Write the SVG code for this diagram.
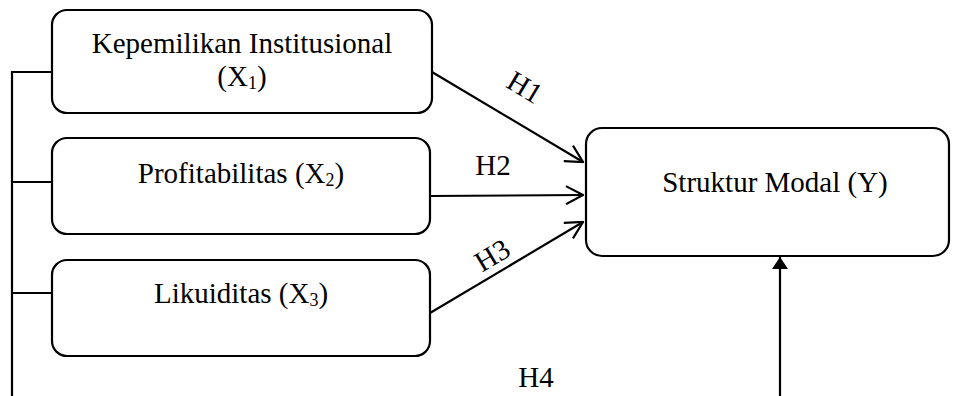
<svg xmlns="http://www.w3.org/2000/svg" width="953" height="396" viewBox="0 0 953 396">
<defs>
<style>
.box{fill:#fff;stroke:#000;stroke-width:2.2}
.ln{fill:none;stroke:#000;stroke-width:2.2}
text{font-family:"Liberation Serif","Times New Roman",serif;font-size:29px;fill:#000;text-anchor:middle}
.sub{font-size:18px}
</style>
<marker id="open" viewBox="0 0 20 20" refX="19" refY="10" markerWidth="20" markerHeight="20" markerUnits="userSpaceOnUse" orient="auto">
<path d="M2,1 L19,10 L2,19" fill="none" stroke="#000" stroke-width="2.2"/>
</marker>
<marker id="solid" viewBox="0 0 12 16" refX="12" refY="8" markerWidth="12" markerHeight="16" markerUnits="userSpaceOnUse" orient="auto">
<path d="M0,0 L12,8 L0,16 Z" fill="#000"/>
</marker>
</defs>
<rect width="953" height="396" fill="#fff"/>
<g id="connectors">
<path class="ln" d="M12,396 V72 H52 M12,182 H52 M12,293 H52"/>
<line class="ln" x1="432" y1="72" x2="583" y2="162" marker-end="url(#open)"/>
<line class="ln" x1="430" y1="196" x2="583" y2="195" marker-end="url(#open)"/>
<line class="ln" x1="430" y1="313" x2="583" y2="222" marker-end="url(#open)"/>
<line class="ln" x1="780" y1="396" x2="780" y2="257" marker-end="url(#solid)"/>
<text transform="translate(525 87) rotate(31)" y="10">H1</text>
<text x="493" y="175">H2</text>
<text transform="translate(492 255) rotate(-31)" y="10">H3</text>
<text x="536" y="387">H4</text>
</g>
<g id="x1">
<rect class="box" x="52" y="10" width="380" height="103" rx="15"/>
<text x="242" y="53">Kepemilikan Institusional</text>
<text x="242" y="86">(X<tspan class="sub" dy="3">1</tspan><tspan dy="-3">)</tspan></text>
</g>
<g id="x2">
<rect class="box" x="52" y="138" width="378" height="96" rx="15"/>
<text x="241" y="183">Profitabilitas (X<tspan class="sub" dy="3">2</tspan><tspan dy="-3">)</tspan></text>
</g>
<g id="x3">
<rect class="box" x="52" y="260" width="378" height="96" rx="15"/>
<text x="241" y="303">Likuiditas (X<tspan class="sub" dy="3">3</tspan><tspan dy="-3">)</tspan></text>
</g>
<g id="y">
<rect class="box" x="586" y="128" width="363" height="128" rx="16"/>
<text x="775" y="192">Struktur Modal (Y)</text>
</g>
</svg>
